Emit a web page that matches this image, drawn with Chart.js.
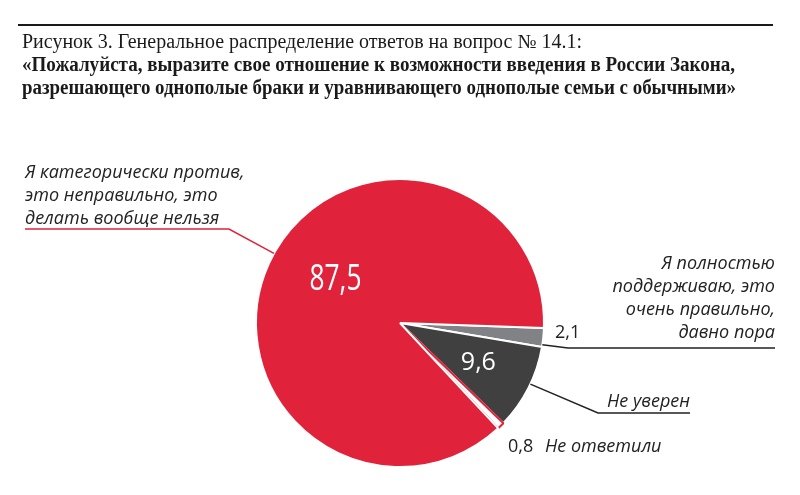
<!DOCTYPE html>
<html lang="ru">
<head>
<meta charset="UTF-8">
<title>Рисунок 3</title>
<script src="https://cdn.jsdelivr.net/npm/chart.js"></script>
<style>
    html, body { margin: 0; padding: 0; background: #fff; }
    #wrap { position: relative; width: 800px; height: 495px; }
</style>
</head>
<body>
<div id="wrap"><canvas id="pieChart"></canvas></div>
<script>
// data, clockwise from ~3 o'clock
const categories = ['Я полностью поддерживаю, это очень правильно, давно пора', 'Не уверен', 'Не ответили', 'Я категорически против, это неправильно, это делать вообще нельзя'];
const values = [2.1, 9.6, 0.8, 87.5];
const valueLabels = ['2,1', '9,6', '0,8', '87,5'];
const colors = ['#808285', '#404041', '#ffffff', '#e0233a'];
const borders = ['#ffffff', '#ffffff', '#e0233a', '#ffffff'];

const titleLines = [
    'Рисунок 3. Генеральное распределение ответов на вопрос № 14.1:',
    '«Пожалуйста, выразите свое отношение к возможности введения в России Закона,',
    'разрешающего однополые браки и уравнивающего однополые семьи с обычными»'
];

const RED = '#e0233a';
const ITALIC = 'italic 18px "Open Sans", sans-serif';
const UPRIGHT = '18px "Open Sans", sans-serif';

// point on arc: fraction along the slice, radius factor
function arcPoint(arc, frac, rf) {
    const a = arc.startAngle + (arc.endAngle - arc.startAngle) * frac;
    const r = arc.outerRadius * rf;
    return { x: arc.x + Math.cos(a) * r, y: arc.y + Math.sin(a) * r };
}

function fitText(ctx, text, x, y, width) {
    const w = ctx.measureText(text).width;
    ctx.save();
    ctx.translate(x, y);
    ctx.scale(width / w, 1);
    ctx.fillText(text, 0, 0);
    ctx.restore();
}

const labelsPlugin = {
    id: 'labels',
    afterDraw(chart) {
        const ctx = chart.ctx;
        const arcs = chart.getDatasetMeta(0).data;
        ctx.save();

        // header rule and title
        ctx.fillStyle = '#1a1a1a';
        ctx.fillRect(18, 24, 755, 2);
        ctx.textBaseline = 'alphabetic';
        ctx.textAlign = 'left';
        ctx.font = '20px "Liberation Serif", serif';
        fitText(ctx, titleLines[0], 22, 48, 560);
        ctx.font = 'bold 20px "Liberation Serif", serif';
        fitText(ctx, titleLines[1], 22, 71, 713);
        fitText(ctx, titleLines[2], 22, 94, 714);

        // values inside
        ctx.fillStyle = '#fff';
        ctx.textBaseline = 'middle';
        ctx.textAlign = 'left';
        let p = arcPoint(arcs[3], 0.53, 0.54);
        ctx.font = '37px "Open Sans", sans-serif';
        fitText(ctx, valueLabels[3], p.x - 26, p.y, 52);
        p = arcPoint(arcs[1], 0.5, 0.61);
        ctx.textAlign = 'center';
        ctx.font = '25px "Open Sans", sans-serif';
        ctx.fillText(valueLabels[1], p.x, p.y);

        ctx.textBaseline = 'alphabetic';
        ctx.lineWidth = 1.5;

        // red: against
        p = arcPoint(arcs[3], 0.514, 1.0);
        ctx.strokeStyle = RED;
        ctx.beginPath();
        ctx.moveTo(p.x, p.y);
        ctx.lineTo(229, 229);
        ctx.lineTo(25, 229);
        ctx.stroke();
        ctx.fillStyle = '#222';
        ctx.textAlign = 'left';
        ctx.font = ITALIC;
        ['Я категорически против,', 'это неправильно, это', 'делать вообще нельзя']
            .forEach((t, i) => ctx.fillText(t, 25, 178 + i * 23));

        // gray: support
        p = arcPoint(arcs[0], 0.89, 1.0);
        ctx.strokeStyle = '#222';
        ctx.beginPath();
        ctx.moveTo(p.x, p.y);
        ctx.lineTo(568, 348);
        ctx.lineTo(775, 348);
        ctx.stroke();
        ctx.textAlign = 'right';
        ['Я полностью', 'поддерживаю, это', 'очень правильно,', 'давно пора']
            .forEach((t, i) => ctx.fillText(t, 775, 269 + i * 23));
        ctx.textAlign = 'left';
        ctx.font = UPRIGHT;
        ctx.fillText(valueLabels[0], 555, 338);

        // dark: not sure
        p = arcPoint(arcs[1], 0.45, 1.0);
        ctx.beginPath();
        ctx.moveTo(p.x, p.y);
        ctx.lineTo(598, 413);
        ctx.lineTo(690, 413);
        ctx.stroke();
        ctx.textAlign = 'right';
        ctx.font = ITALIC;
        ctx.fillText(categories[1], 690, 407);

        // white: no answer
        ctx.textAlign = 'left';
        ctx.font = UPRIGHT;
        ctx.fillText(valueLabels[2], 508, 452);
        ctx.font = ITALIC;
        ctx.fillText(categories[2], 545, 452);

        ctx.restore();
    }
};

new Chart(document.getElementById('pieChart'), {
    type: 'pie',
    data: {
        labels: categories,
        datasets: [{
            data: values,
            backgroundColor: colors,
            borderColor: borders,
            borderWidth: 2
        }]
    },
    options: {
        responsive: true,
        maintainAspectRatio: false,
        animation: false,
        rotation: 92,
        layout: { padding: { top: 178, bottom: 27, left: 100, right: 100 } },
        plugins: {
            legend: { display: false },
            tooltip: { enabled: false },
            title: { display: false }
        }
    },
    plugins: [labelsPlugin]
});
</script>
</body>
</html>
